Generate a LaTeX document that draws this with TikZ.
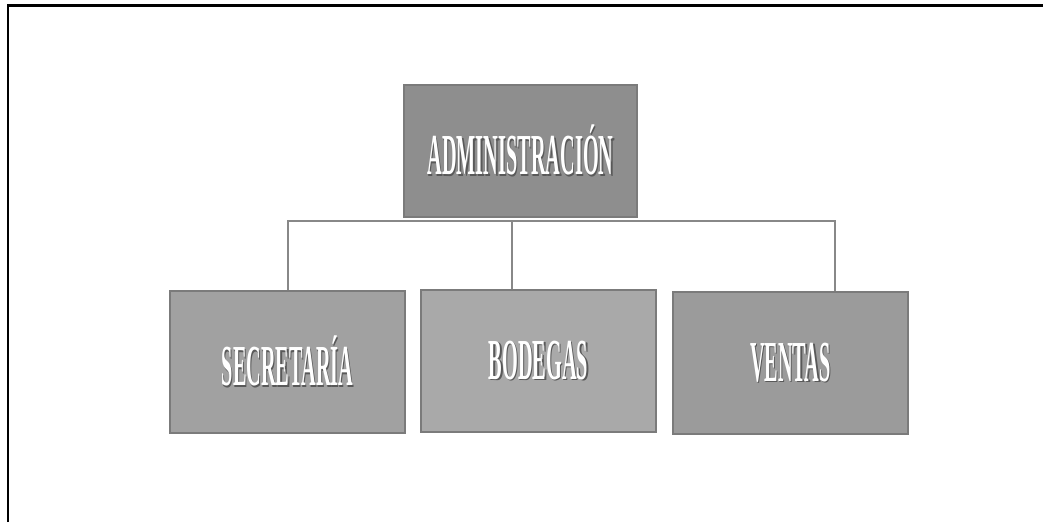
\documentclass[tikz,border=0pt]{standalone}
\usepackage{fontspec}
\usepackage{tikz}
\newfontfamily\orgfont[FakeStretch=0.35]{Liberation Serif}
\definecolor{cadmin}{HTML}{8E8E8E}
\definecolor{csecre}{HTML}{A1A1A1}
\definecolor{cbodeg}{HTML}{A9A9A9}
\definecolor{cventa}{HTML}{9B9B9B}
\definecolor{cedge}{HTML}{7B7B7B}
\newcommand{\shadowtxt}[1]{\rlap{\hspace{0.7pt}\raisebox{-0.7pt}{\color{black!65}#1}}#1}

\begin{document}
\begin{tikzpicture}[x=0.02cm,y=-0.02cm,thick,
  box node/.style={rectangle,draw=cedge,line width=0.04cm,text=white,
        minimum width=4.7cm,minimum height=2.84cm,inner sep=0pt,
        font=\orgfont\bfseries\fontsize{33}{34}\selectfont},
  top node/.style={box node,minimum width=4.66cm,minimum height=2.64cm},
  link/.style={draw=cedge!90,line width=0.04cm}]
  \useasboundingbox (0,0) rectangle (1043,522);
  \draw[line width=0.06cm] (8,522) -- (8,5) -- (1043,5);

  \node[top node,fill=cadmin] (admin) at (520.5,151) {\shadowtxt{ADMINISTRACIÓN}};
  \node[box node,fill=csecre] (secre) at (287.5,362) {\shadowtxt{SECRETARÍA}};
  \node[box node,fill=cbodeg] (bodeg) at (538.5,361) {\shadowtxt{BODEGAS}\hspace{0.44cm}};
  \node[box node,fill=cventa] (venta) at (790.5,363) {\shadowtxt{VENTAS}};

  \coordinate (bus) at ([yshift=-0.06cm]admin.south);
  \coordinate (bodtop) at ([xshift=-0.54cm]bodeg.north);
  \coordinate (ventop) at ([xshift=0.88cm]venta.north);
  \path[link]
    (secre.north) |- (bus) -| (ventop)
    (bodtop) -- (bodtop |- bus);
\end{tikzpicture}
\end{document}
